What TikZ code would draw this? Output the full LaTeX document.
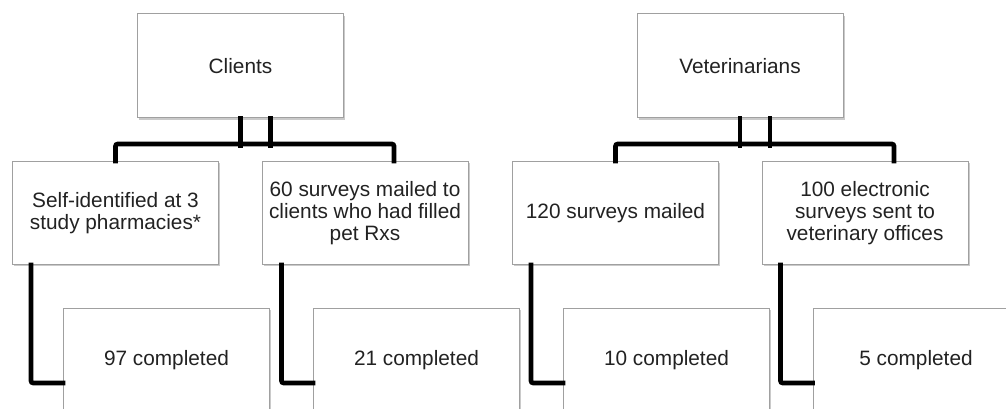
\documentclass[tikz,border=0pt]{standalone}
\usepackage{fontspec}
\setmainfont{Liberation Sans}
\usepackage{tikz}
\usetikzlibrary{calc,positioning,shadows}
\definecolor{boxline}{RGB}{160,160,160}
\definecolor{boxtext}{RGB}{34,34,34}
\begin{document}
\begin{tikzpicture}[x=0.75pt,y=-0.75pt,
    box/.style={draw=boxline,line width=0.75pt,fill=white,minimum width=154.5pt,minimum height=77.25pt,
      inner sep=0pt,align=center,text=boxtext,font=\fontsize{15.6}{16.6}\selectfont,
      drop shadow={shadow xshift=1.2pt,shadow yshift=-1.5pt,opacity=0.35,fill=black!60}},
    link/.style={line width=3.4pt,rounded corners=1.5pt,line cap=rect}]
        \useasboundingbox (0,0) rectangle (1006,409);
        \clip (0,0) rectangle (1006,409);
        % top row
        \node[box,minimum height=78pt] (clients) at (240.5,66) {Clients};
        \node[box,minimum height=78pt] (vets) at (740,66) {Veterinarians};
        % second row
        \node[box] (selfid) at (115.5,213) {Self-identified at 3\\study pharmacies*};
        \node[box] (mail60) at (365,213) {60 surveys mailed to\\clients who had filled\\pet Rxs};
        \node[box] (mail120) at (615.5,213) {120 surveys mailed};
        \node[box] (elec) at (865,213) {100 electronic\\surveys sent to\\veterinary offices};
        % third row
        \node[box] (done97) at (166.5,360) {97 completed};
        \node[box] (done21) at (416.5,360) {21 completed};
        \node[box] (done10) at (666.5,360) {10 completed};
        \node[box] (done5) at (916,360) {5 completed};
        % links
        \draw[link] (clients.south) -- ++(0,27);
        \draw[link] ($(clients.south)+(30,0)$) -- ++(0,27);
        \draw[link] (selfid.north) -- ++(0,-17) -| ($(mail60.north)+(29,0)$);
        \draw[link] (vets.south) -- ++(0,27);
        \draw[link] ($(vets.south)+(30,0)$) -- ++(0,27);
        \draw[link] (mail120.north) -- ++(0,-17) -| ($(elec.north)+(29,0)$);
        \draw[link] ($(selfid.south west)+(19,0)$) |- ($(done97.west)+(0,23)$);
        \draw[link] ($(mail60.south west)+(20,0)$) |- ($(done21.west)+(0,23)$);
        \draw[link] ($(mail120.south west)+(19,0)$) |- ($(done10.west)+(0,23)$);
        \draw[link] ($(elec.south west)+(19,0)$) |- ($(done5.west)+(0,23)$);
\end{tikzpicture}
\end{document}
